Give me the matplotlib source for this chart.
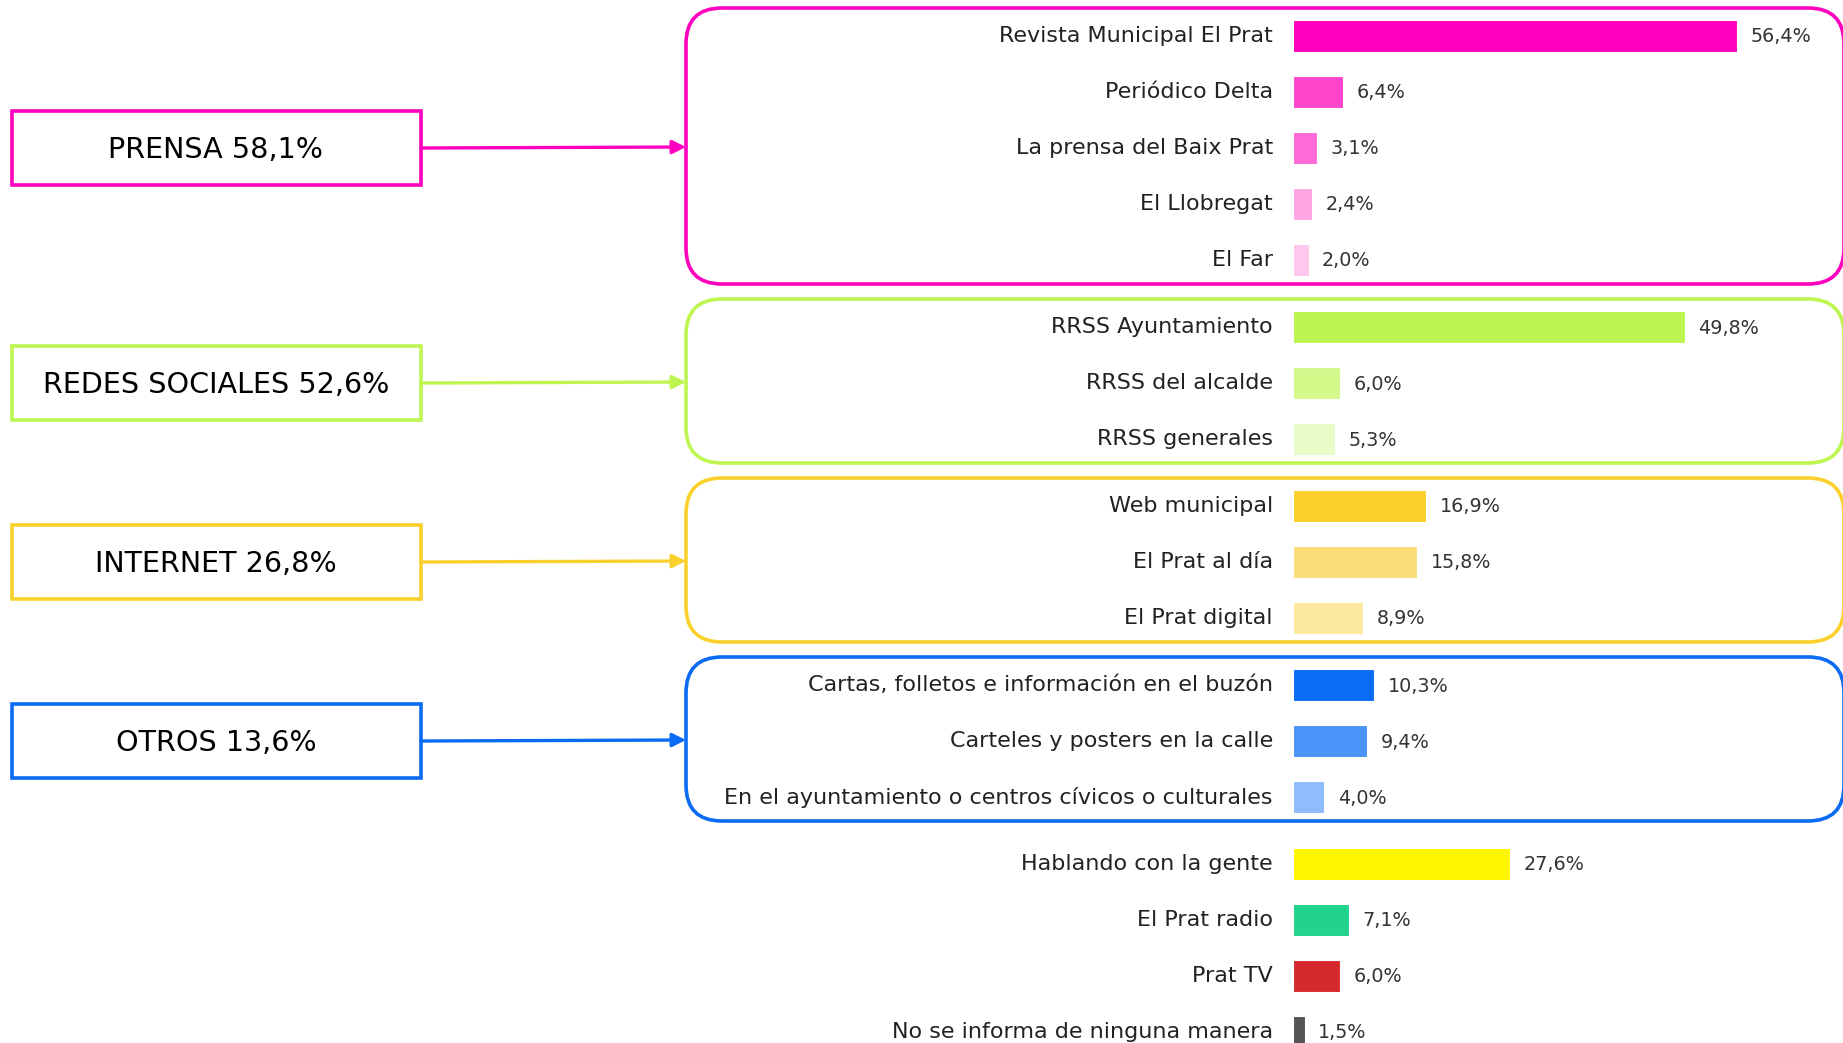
import numpy as np
import matplotlib
matplotlib.use("Agg")
import matplotlib.pyplot as plt
from matplotlib.patches import FancyBboxPatch, Rectangle

plt.rcParams['font.family'] = ['DejaVu Sans']

# Datos
groups = ['PRENSA', 'REDES SOCIALES', 'INTERNET', 'OTROS', None]
group_totals = [58.1, 52.6, 26.8, 13.6, None]
group_colors = ['#ff00bf', '#bef550', '#fad02c', '#0a6bf5', None]

labels = [
    ['Revista Municipal El Prat', 'Periódico Delta', 'La prensa del Baix Prat',
     'El Llobregat', 'El Far'],
    ['RRSS Ayuntamiento', 'RRSS del alcalde', 'RRSS generales'],
    ['Web municipal', 'El Prat al día', 'El Prat digital'],
    ['Cartas, folletos e información en el buzón', 'Carteles y posters en la calle',
     'En el ayuntamiento o centros cívicos o culturales'],
    ['Hablando con la gente', 'El Prat radio', 'Prat TV', 'No se informa de ninguna manera'],
]
values = [
    [56.4, 6.4, 3.1, 2.4, 2.0],
    [49.8, 6.0, 5.3],
    [16.9, 15.8, 8.9],
    [10.3, 9.4, 4.0],
    [27.6, 7.1, 6.0, 1.5],
]
colors = [
    ['#ff00bf', '#ff45cc', '#ff6ad6', '#ffa6e3', '#ffc6ee'],
    ['#bcf550', '#d5f88a', '#e8fbc8'],
    ['#fbd02a', '#fbdd78', '#fce89f'],
    ['#0a6bf5', '#4a93f7', '#8fbcfb'],
    ['#fff700', '#22d38c', '#d42a2e', '#555555'],
]

W, H = 1843, 1043
fig = plt.figure(figsize=(W / 100, H / 100), dpi=100)

# capa de cajas y flechas (coordenadas en pixeles)
ov = fig.add_axes([0, 0, 1, 1])
ov.set_xlim(0, W)
ov.set_ylim(H, 0)
ov.axis('off')

# barras
x0 = 1293
px_per_pct = 7.87
ax = fig.add_axes([x0 / W, 0, (W - x0) / W, 1])
ax.set_xlim(0, (W - x0) / px_per_pct)
ax.set_ylim(H, 0)
ax.axis('off')

top, step, gap, bar_h = 36, 56, 11, 32
i = 0
for g, (labs, vals, cols) in enumerate(zip(labels, values, colors)):
    ys = [top + step * (i + k) + gap * g for k in range(len(vals))]
    i += len(vals)
    ax.barh(ys, vals, height=bar_h, color=cols, edgecolor='white', linewidth=0.8)
    for y, lab, v in zip(ys, labs, vals):
        ax.text(-2.55, y, lab, ha='right', va='center', fontsize=16, color='#222222')
        ax.text(v + 1.7, y + 1, f"{v:.1f}".replace('.', ',') + '%', ha='left',
                va='center', fontsize=13.8, color='#333333')

    if groups[g] is None:
        continue
    c = group_colors[g]
    y_top = ys[0] - 28
    y_bot = ys[-1] + 24
    ov.add_patch(FancyBboxPatch((686, y_top), 1158, y_bot - y_top,
                                boxstyle='round,pad=0,rounding_size=36',
                                fill=False, edgecolor=c, linewidth=2.6, clip_on=False))
    yc = (ys[0] + ys[-1]) / 2
    ov.add_patch(Rectangle((12, yc - 37), 409, 74, fill=False, edgecolor=c, linewidth=2.6))
    ov.text(216, yc + 2, f"{groups[g]} {group_totals[g]:.1f}".replace('.', ',') + '%',
            ha='center', va='center', fontsize=20.6, color='black')
    ov.annotate('', xy=(686, yc - 1), xytext=(421, yc),
                arrowprops=dict(arrowstyle='-|>,head_length=0.8,head_width=0.4',
                                color=c, lw=2.4, shrinkA=0, shrinkB=0))

fig.savefig('out.png', dpi=100)
